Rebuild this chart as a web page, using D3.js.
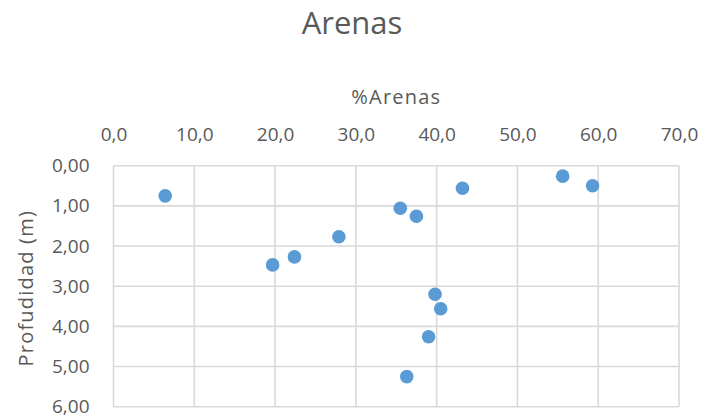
<!DOCTYPE html>
<html>
<head>
<meta charset="utf-8">
<script src="https://cdn.jsdelivr.net/npm/d3@7"></script>
<style>
  html, body { margin: 0; padding: 0; background: #ffffff; }
  svg { display: block; }
  text { font-family: "Open Sans", "Liberation Sans", sans-serif; fill: #595959; }
</style>
</head>
<body>
<svg id="chart" width="702" height="416"></svg>
<script>
// Sand content (%) against sample depth (m)
const arenaPct = [55.6, 59.3, 43.2, 6.4, 35.5, 37.5, 27.9, 22.4, 19.7, 39.8, 40.5, 39.0, 36.3];
const depthM   = [0.26, 0.50, 0.56, 0.75, 1.06, 1.26, 1.77, 2.27, 2.47, 3.20, 3.56, 4.26, 5.25];
const xTicks = [0, 10, 20, 30, 40, 50, 60, 70];
const yTicks = [0, 1, 2, 3, 4, 5, 6];
const chartTitle = "Arenas";
const xTitle = "%Arenas";
const yTitle = "Profudidad (m)";

const points = arenaPct.map((v, i) => ({ x: v, y: depthM[i] }));

const locale = d3.formatLocale({ decimal: ",", thousands: ".", grouping: [3], currency: ["", " €"] });
const fmtX = locale.format(".1f");
const fmtY = locale.format(".2f");

const svg = d3.select("#chart");
const plot = { left: 113.5, right: 679, top: 165.7, bottom: 406.7 };

const x = d3.scaleLinear().domain([0, 70]).range([plot.left, plot.right]);
const y = d3.scaleLinear().domain([0, 6]).range([plot.top, plot.bottom]);

const gridColor = "#d9d9d9";

// Gridlines (also form the plot frame)
svg.append("g")
  .selectAll("line")
  .data(xTicks)
  .join("line")
  .attr("x1", d => x(d)).attr("x2", d => x(d))
  .attr("y1", plot.top).attr("y2", plot.bottom)
  .attr("stroke", gridColor).attr("stroke-width", 1.6);

svg.append("g")
  .selectAll("line")
  .data(yTicks)
  .join("line")
  .attr("x1", plot.left).attr("x2", plot.right)
  .attr("y1", d => y(d)).attr("y2", d => y(d))
  .attr("stroke", gridColor).attr("stroke-width", 1.6);

// Top axis labels
const xAxis = svg.append("g")
  .attr("transform", `translate(0,${plot.top})`)
  .call(d3.axisTop(x).tickValues(xTicks).tickFormat(fmtX).tickSize(0).tickPadding(25));
xAxis.select(".domain").remove();
xAxis.selectAll("text")
  .style("font-family", "'Open Sans', sans-serif")
  .attr("fill", "#595959")
  .style("font-size", "19px");

// Left axis labels
const yAxis = svg.append("g")
  .attr("transform", `translate(${plot.left},0)`)
  .call(d3.axisLeft(y).tickValues(yTicks).tickFormat(fmtY).tickSize(0).tickPadding(24));
yAxis.select(".domain").remove();
yAxis.selectAll("text")
  .style("font-family", "'Open Sans', sans-serif")
  .attr("fill", "#595959")
  .style("font-size", "19px");

// Points
svg.append("g")
  .selectAll("circle")
  .data(points)
  .join("circle")
  .attr("cx", d => x(d.x))
  .attr("cy", d => y(d.y))
  .attr("r", 6.8)
  .attr("fill", "#5b9bd5");

// Titles
svg.append("text")
  .attr("x", 352).attr("y", 34)
  .attr("text-anchor", "middle")
  .style("font-size", "31px")
  .text(chartTitle);

svg.append("text")
  .attr("x", (plot.left + plot.right) / 2).attr("y", 104)
  .attr("text-anchor", "middle")
  .style("font-size", "20px")
  .style("letter-spacing", "1.2px")
  .text(xTitle);

svg.append("text")
  .attr("transform", `translate(33,${(plot.top + plot.bottom) / 2 + 2}) rotate(-90)`)
  .attr("text-anchor", "middle")
  .style("font-size", "20px")
  .style("letter-spacing", "1.2px")
  .text(yTitle);
</script>
</body>
</html>
